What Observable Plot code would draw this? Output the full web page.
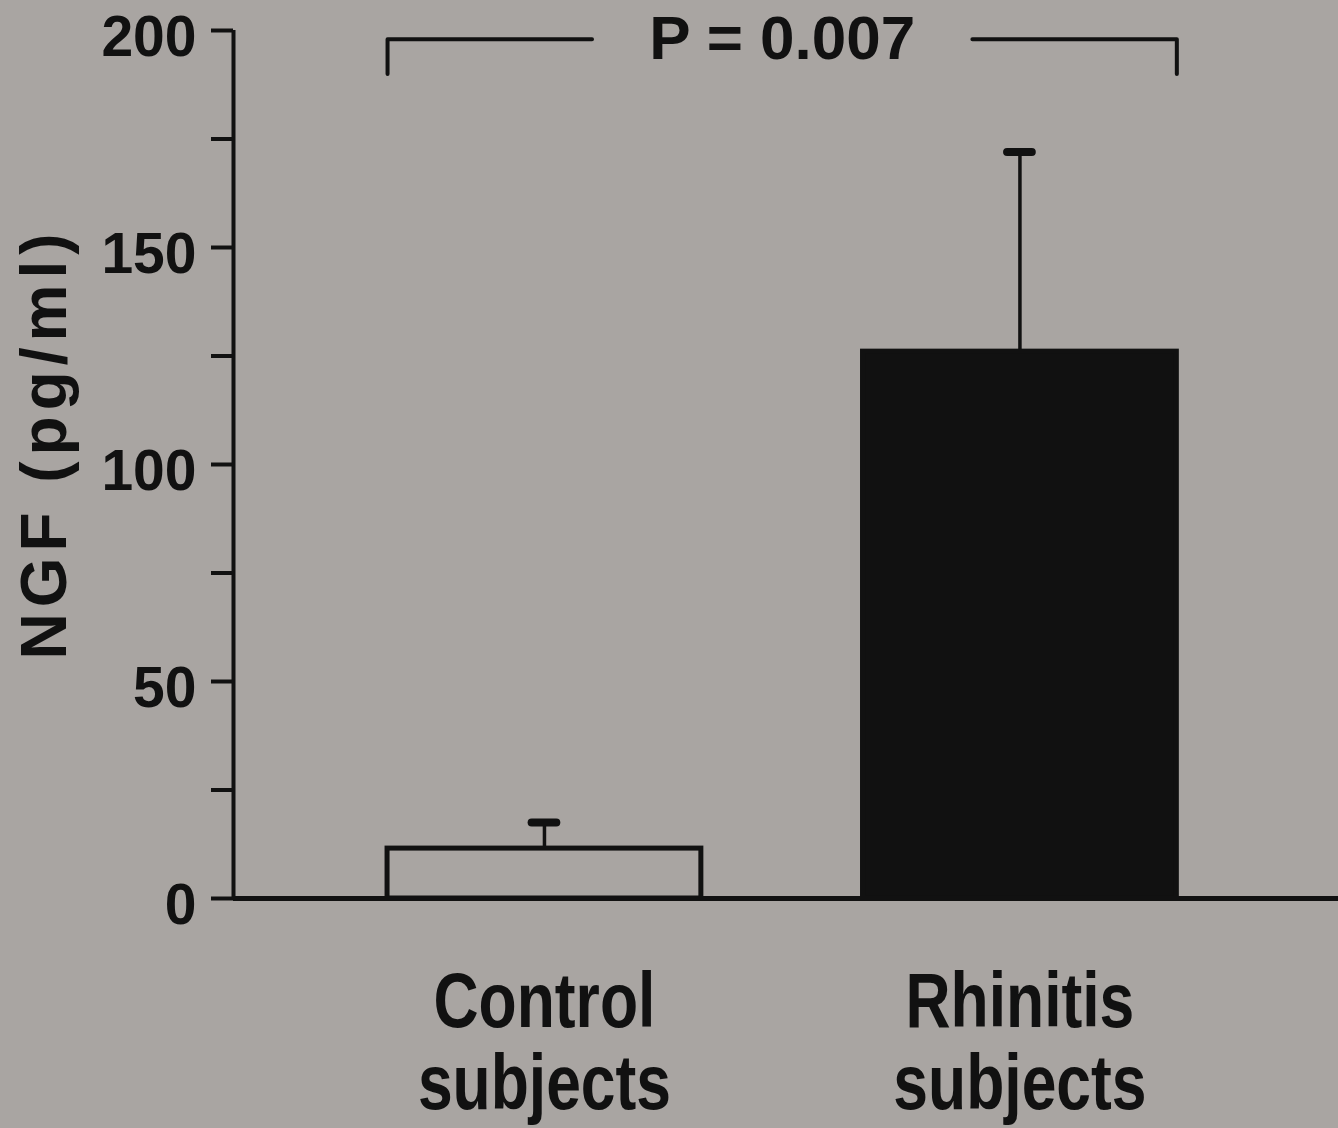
<!DOCTYPE html>
<html>
<head>
<meta charset="utf-8">
<script src="https://cdn.jsdelivr.net/npm/d3@7"></script>
<script src="https://cdn.jsdelivr.net/npm/@observablehq/plot@0.6"></script>
<style>
  html, body { margin: 0; padding: 0; background: #a9a5a2; }
  #chart { width: 1338px; height: 1128px; overflow: hidden; }
  svg { display: block; }
</style>
</head>
<body>
<div id="chart"></div>
<script>
// ---- data ----
const categories = ["Control\nsubjects", "Rhinitis\nsubjects"];
const means = [11.5, 126];          // NGF (pg/ml), bar heights
const errorUpper = [17.5, 172];     // mean + SEM (top of error bar)
const yTicks = [0, 25, 50, 75, 100, 125, 150, 175, 200];
const yTickLabels = [0, 50, 100, 150, 200];
const yTitle = "NGF (pg/ml)";
const pLabel = "P = 0.007";
const bracketLevel = 198;           // NGF value of the significance bracket
const bracketDrop = 8;

// ---- layout / style constants ----
const INK = "#111";
const FONT = "'Liberation Sans', Arial, Helvetica, sans-serif";
const HALF = 0.33;      // half bar width (x units)
const CAP = 0.026;      // half cap width
const GAP = 0.4;        // half gap around p label
const xDomain = [-0.654, 1.67];

const rows = categories.map((label, i) => ({i, label, mean: means[i], upper: errorUpper[i]}));

const bx1 = 0 - HALF, bx2 = (categories.length - 1) + HALF;
const bmid = (bx1 + bx2) / 2;
const leftArm = [[bx1, bracketLevel - bracketDrop], [bx1, bracketLevel], [bmid - GAP, bracketLevel]];
const rightArm = [[bmid + GAP, bracketLevel], [bx2, bracketLevel], [bx2, bracketLevel - bracketDrop]];

const plot = Plot.plot({
  width: 1338,
  height: 1128,
  marginLeft: 233,
  marginRight: 0,
  marginTop: 30,
  marginBottom: 230,
  style: {background: "transparent", fontFamily: FONT, color: INK, overflow: "visible"},
  x: {type: "linear", domain: xDomain, axis: null},
  y: {domain: [0, 200]},
  marks: [
    // y axis line
    Plot.ruleX([xDomain[0]], {y1: 0, y2: 200, stroke: INK, strokeWidth: 4}),
    // y ticks
    Plot.axisY(yTicks, {tickSize: 22, tickFormat: () => "", stroke: INK, strokeWidth: 4, label: null}),
    // y tick labels
    Plot.text(yTickLabels, {y: d => d, text: d => String(d), frameAnchor: "left", textAnchor: "end",
      dx: -37, dy: 7, fontSize: 57, fontWeight: "bold", fill: INK}),
    // y title
    Plot.text([yTitle], {frameAnchor: "left", textAnchor: "middle", rotate: -90, dx: -188, dy: -21,
      fontSize: 64, fontWeight: "bold", fill: INK}),
    // error bars
    Plot.ruleX(rows, {x: "i", y1: "mean", y2: "upper", stroke: INK, strokeWidth: 3.5}),
    Plot.ruleY(rows, {y: "upper", x1: d => d.i - CAP, x2: d => d.i + CAP, stroke: INK,
      strokeWidth: 8, strokeLinecap: "round"}),
    // bars
    Plot.rectY(rows, {filter: d => d.i === 0, x1: d => d.i - HALF, x2: d => d.i + HALF, y1: 0, y2: "mean",
      fill: "none", stroke: INK, strokeWidth: 5}),
    Plot.rectY(rows, {filter: d => d.i === 1, x1: d => d.i - HALF, x2: d => d.i + HALF, y1: 0, y2: "mean",
      fill: INK, stroke: INK, strokeWidth: 5}),
    // baseline
    Plot.ruleY([0], {stroke: INK, strokeWidth: 5}),
    // significance bracket
    Plot.line(leftArm, {x: d => d[0], y: d => d[1], stroke: INK, strokeWidth: 4}),
    Plot.line(rightArm, {x: d => d[0], y: d => d[1], stroke: INK, strokeWidth: 4}),
    Plot.text([pLabel], {x: bmid, y: bracketLevel, text: d => d, fontSize: 62, fontWeight: "bold", fill: INK}),
    // category labels
    Plot.text(rows, {x: "i", y: 0, text: "label", dy: 70, lineAnchor: "top", lineHeight: 1.05,
      fontSize: 78, fontWeight: "bold", fill: INK})
  ]
});

// post-processing of text styling
const flatLabels = new Set(categories.map(c => c.replace(/\n/g, "")));
plot.querySelectorAll("text").forEach(t => {
  if (t.textContent === yTitle) {
    t.style.letterSpacing = "6px";
  }
  if (flatLabels.has(t.textContent)) {
    const tr = t.getAttribute("transform");
    if (tr) {
      t.setAttribute("transform", tr + " scale(0.8,1)");
    } else {
      const x = +t.getAttribute("x") || 0;
      t.setAttribute("transform", `translate(${x},0) scale(0.8,1) translate(${-x},0)`);
    }
  }
});

document.getElementById("chart").appendChild(plot);
</script>
</body>
</html>
